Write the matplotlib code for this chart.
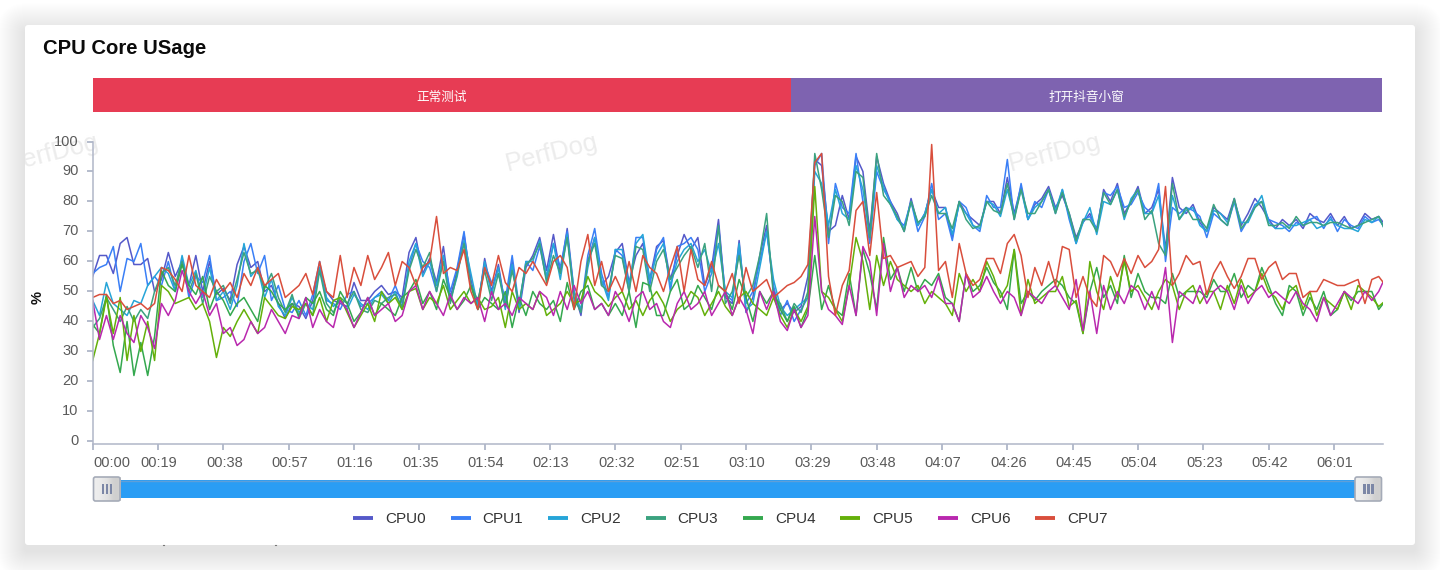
import matplotlib

matplotlib.use("Agg")
import matplotlib.pyplot as plt
import numpy as np
from matplotlib.patches import FancyBboxPatch, Rectangle
from matplotlib.transforms import Bbox, ScaledTranslation, TransformedBbox

plt.rcParams["font.family"] = ["Liberation Sans", "Noto Sans CJK SC", "DejaVu Sans"]

# one sample every 2 seconds
seconds = list(range(0, 378, 2))

cpu0 = [55, 62, 62, 56, 66, 68, 59, 59, 61, 50,
        54, 63, 55, 60, 52, 62, 50, 60, 49, 51,
        47, 59, 65, 58, 60, 50, 52, 46, 41, 46,
        45, 41, 47, 58, 50, 47, 46, 45, 53, 47,
        47, 50, 52, 49, 50, 48, 63, 68, 56, 61,
        53, 65, 48, 57, 69, 54, 44, 61, 50, 59,
        45, 60, 43, 58, 62, 68, 57, 69, 56, 71,
        50, 42, 60, 68, 52, 55, 63, 66, 53, 62,
        66, 54, 65, 67, 54, 62, 69, 64, 68, 52,
        58, 74, 48, 46, 67, 43, 48, 62, 72, 50,
        44, 46, 43, 45, 55, 94, 92, 70, 72, 82,
        74, 95, 90, 70, 95, 86, 80, 76, 70, 81,
        72, 76, 84, 78, 78, 68, 80, 76, 74, 72,
        80, 80, 76, 88, 76, 85, 74, 79, 81, 85,
        78, 82, 76, 68, 73, 76, 70, 84, 80, 86,
        76, 80, 85, 76, 78, 84, 64, 88, 78, 76,
        79, 73, 70, 78, 76, 74, 81, 72, 76, 81,
        78, 74, 71, 74, 72, 74, 71, 76, 74, 73,
        76, 72, 75, 71, 72, 76, 74, 75, 72]
cpu1 = [56, 58, 59, 65, 50, 61, 60, 66, 52, 55,
        52, 60, 50, 61, 48, 55, 53, 62, 47, 48,
        50, 45, 60, 66, 56, 62, 47, 52, 44, 43,
        47, 42, 49, 60, 47, 46, 44, 49, 50, 45,
        46, 48, 50, 47, 52, 46, 58, 66, 60, 58,
        50, 62, 50, 58, 70, 52, 46, 59, 53, 56,
        47, 62, 45, 60, 57, 65, 54, 66, 58, 70,
        47, 44, 62, 71, 56, 48, 64, 62, 50, 68,
        68, 52, 64, 68, 50, 65, 66, 68, 64, 50,
        56, 72, 49, 47, 64, 46, 50, 60, 70, 52,
        42, 47, 40, 44, 48, 92, 96, 66, 86, 78,
        76, 96, 80, 66, 90, 84, 80, 74, 72, 80,
        70, 75, 86, 74, 76, 67, 80, 78, 72, 70,
        82, 78, 78, 94, 74, 86, 74, 80, 78, 84,
        76, 84, 74, 66, 74, 75, 71, 83, 82, 85,
        78, 79, 83, 78, 76, 86, 60, 78, 76, 78,
        77, 75, 68, 76, 74, 72, 80, 70, 74, 79,
        80, 74, 73, 72, 70, 73, 72, 74, 75, 71,
        75, 70, 74, 72, 71, 75, 73, 74, 71]
cpu2 = [47, 42, 53, 46, 44, 42, 47, 46, 52, 55,
        58, 56, 50, 62, 52, 57, 48, 58, 47, 50,
        44, 52, 66, 55, 58, 48, 54, 45, 42, 48,
        43, 46, 44, 58, 48, 45, 47, 44, 49, 46,
        44, 48, 49, 46, 50, 44, 60, 66, 55, 60,
        52, 62, 47, 55, 67, 56, 45, 60, 49, 58,
        44, 59, 44, 60, 60, 67, 55, 66, 54, 69,
        50, 44, 58, 68, 54, 47, 64, 64, 52, 66,
        69, 54, 62, 66, 52, 60, 64, 66, 60, 64,
        56, 66, 50, 48, 66, 44, 46, 58, 70, 54,
        45, 42, 44, 46, 48, 90, 86, 72, 84, 76,
        74, 92, 84, 68, 92, 85, 79, 74, 71, 80,
        72, 76, 84, 76, 78, 69, 79, 76, 72, 71,
        80, 79, 75, 84, 75, 84, 74, 78, 80, 84,
        77, 84, 75, 66, 73, 78, 69, 80, 79, 84,
        74, 81, 84, 76, 76, 82, 63, 82, 74, 77,
        78, 72, 70, 77, 76, 73, 80, 73, 73, 78,
        82, 73, 71, 71, 72, 72, 73, 74, 71, 72,
        74, 72, 71, 71, 70, 74, 73, 75, 70]
cpu3 = [38, 41, 48, 44, 40, 45, 40, 44, 41, 50,
        56, 58, 52, 60, 50, 56, 46, 55, 50, 52,
        46, 54, 63, 56, 57, 51, 56, 48, 43, 49,
        41, 46, 42, 57, 46, 43, 48, 46, 50, 44,
        43, 47, 46, 48, 49, 45, 57, 64, 58, 63,
        50, 60, 46, 56, 66, 52, 47, 57, 47, 56,
        45, 57, 46, 59, 61, 66, 53, 62, 56, 68,
        48, 43, 60, 66, 52, 50, 62, 61, 50, 65,
        64, 50, 60, 64, 54, 58, 62, 65, 58, 66,
        50, 72, 46, 50, 62, 48, 52, 62, 76, 48,
        46, 40, 46, 43, 50, 96, 84, 68, 82, 80,
        72, 90, 88, 68, 96, 82, 79, 75, 70, 80,
        73, 75, 82, 76, 76, 71, 80, 74, 71, 72,
        80, 77, 76, 86, 74, 84, 76, 76, 80, 84,
        76, 83, 76, 67, 74, 74, 70, 83, 79, 84,
        75, 80, 84, 74, 77, 66, 62, 86, 74, 78,
        74, 74, 71, 79, 74, 72, 81, 71, 74, 78,
        80, 72, 72, 73, 71, 75, 72, 73, 73, 72,
        73, 73, 72, 71, 72, 73, 74, 75, 70]
cpu4 = [39, 36, 49, 32, 23, 40, 22, 33, 22, 35,
        57, 52, 50, 59, 52, 49, 55, 44, 50, 47,
        42, 46, 48, 44, 40, 52, 50, 46, 44, 46,
        42, 48, 46, 50, 44, 42, 50, 46, 40, 43,
        48, 42, 46, 44, 42, 48, 50, 54, 46, 50,
        44, 54, 48, 44, 47, 52, 44, 48, 46, 44,
        50, 38, 48, 42, 50, 46, 44, 47, 40, 53,
        44, 50, 52, 44, 46, 42, 46, 42, 50, 38,
        53, 52, 42, 42, 50, 54, 44, 46, 52, 48,
        44, 52, 50, 44, 54, 48, 40, 50, 46, 50,
        44, 40, 45, 38, 44, 62, 44, 52, 44, 42,
        56, 42, 64, 56, 44, 68, 54, 58, 50, 58,
        50, 54, 52, 56, 48, 46, 40, 56, 50, 52,
        58, 53, 50, 44, 64, 46, 50, 47, 50, 52,
        54, 52, 48, 46, 36, 50, 58, 48, 52, 46,
        62, 48, 56, 50, 48, 48, 46, 56, 48, 50,
        50, 50, 48, 54, 50, 50, 56, 48, 52, 50,
        58, 52, 46, 42, 52, 50, 42, 48, 44, 50,
        42, 44, 50, 47, 50, 50, 50, 44, 47]
cpu5 = [27, 36, 48, 36, 48, 27, 42, 30, 40, 27,
        52, 50, 46, 47, 48, 44, 46, 40, 28, 38,
        35, 40, 44, 40, 36, 48, 45, 42, 41, 45,
        44, 46, 42, 48, 40, 47, 48, 43, 38, 42,
        46, 40, 50, 46, 48, 44, 50, 51, 44, 48,
        46, 52, 44, 47, 50, 46, 48, 44, 45, 48,
        38, 50, 44, 46, 44, 50, 42, 44, 46, 50,
        46, 47, 55, 50, 48, 45, 48, 50, 44, 47,
        42, 47, 50, 46, 40, 44, 46, 50, 48, 42,
        46, 50, 45, 42, 48, 50, 46, 44, 42, 48,
        42, 38, 44, 40, 45, 85, 50, 48, 44, 40,
        52, 68, 60, 44, 62, 52, 60, 54, 52, 50,
        52, 46, 50, 48, 46, 42, 56, 50, 54, 50,
        60, 55, 48, 52, 64, 42, 54, 46, 48, 50,
        50, 55, 45, 47, 36, 60, 50, 44, 55, 48,
        60, 50, 52, 48, 44, 50, 54, 52, 44, 50,
        52, 46, 50, 50, 44, 52, 46, 54, 48, 50,
        56, 50, 48, 44, 50, 52, 44, 50, 42, 48,
        46, 44, 50, 44, 52, 50, 48, 45, 47]
cpu6 = [47, 34, 42, 34, 42, 36, 33, 42, 38, 31,
        46, 42, 47, 57, 50, 46, 50, 42, 46, 36,
        38, 32, 34, 40, 36, 38, 44, 40, 36, 42,
        41, 48, 38, 44, 40, 38, 47, 44, 38, 43,
        48, 42, 44, 46, 40, 42, 50, 52, 44, 50,
        46, 42, 49, 44, 48, 46, 48, 40, 50, 44,
        46, 42, 48, 46, 44, 50, 48, 42, 50, 44,
        52, 46, 50, 44, 46, 42, 50, 46, 40, 48,
        50, 44, 46, 40, 38, 46, 50, 44, 46, 50,
        42, 46, 50, 42, 48, 44, 36, 50, 44, 50,
        40, 37, 44, 38, 42, 75, 50, 44, 42, 39,
        52, 42, 65, 60, 42, 66, 50, 58, 48, 52,
        50, 52, 48, 55, 46, 46, 40, 56, 48, 50,
        55, 50, 46, 50, 48, 42, 50, 48, 46, 50,
        52, 48, 44, 54, 37, 50, 36, 52, 44, 50,
        46, 52, 50, 44, 50, 44, 58, 33, 50, 48,
        46, 52, 46, 50, 52, 50, 44, 52, 46, 50,
        52, 48, 50, 48, 46, 50, 46, 44, 40, 48,
        42, 46, 50, 48, 46, 50, 47, 50, 55]
cpu7 = [48, 49, 49, 46, 47, 44, 45, 46, 44, 46,
        58, 57, 54, 50, 62, 52, 50, 48, 54, 50,
        53, 48, 56, 52, 58, 52, 54, 56, 48, 50,
        52, 56, 49, 60, 50, 48, 62, 48, 58, 52,
        62, 54, 58, 63, 52, 60, 58, 52, 58, 60,
        75, 56, 58, 57, 64, 50, 44, 58, 52, 62,
        53, 50, 58, 56, 60, 56, 52, 60, 62, 58,
        44, 60, 69, 52, 60, 50, 55, 50, 60, 50,
        62, 58, 56, 50, 58, 65, 50, 64, 54, 52,
        60, 52, 50, 56, 46, 58, 50, 52, 54, 48,
        50, 52, 53, 55, 59, 93, 96, 55, 42, 52,
        57, 77, 80, 62, 83, 61, 62, 58, 59, 60,
        55, 58, 99, 57, 60, 48, 66, 56, 52, 54,
        61, 61, 56, 66, 69, 62, 48, 58, 52, 60,
        52, 65, 64, 48, 55, 48, 45, 62, 60, 55,
        61, 56, 62, 58, 60, 64, 85, 52, 56, 62,
        59, 60, 49, 56, 60, 55, 51, 55, 61, 61,
        54, 58, 60, 54, 56, 56, 48, 50, 50, 54,
        53, 52, 52, 53, 54, 46, 54, 55, 52]

series = [cpu0, cpu1, cpu2, cpu3, cpu4, cpu5, cpu6, cpu7]
series_names = ["CPU0", "CPU1", "CPU2", "CPU3", "CPU4", "CPU5", "CPU6", "CPU7"]
series_colors = ["#5559C9", "#3A7FF6", "#26A5D8", "#3BA27F",
                 "#34A84E", "#64B00A", "#B928AE", "#D94E3C"]

tick_seconds = list(range(0, 362, 19))
tick_labels = ["00:00", "00:19", "00:38", "00:57", "01:16", "01:35", "01:54",
               "02:13", "02:32", "02:51", "03:10", "03:29", "03:48", "04:07",
               "04:26", "04:45", "05:04", "05:23", "05:42", "06:01"]

band_names = ["正常测试", "打开抖音小窗"]
band_starts = [0, 203]
band_lengths = [203, 172]
band_colors = ["#E73C54", "#7E63B0"]

W, H = 1440, 570
fig = plt.figure(figsize=(W / 100, H / 100), dpi=100, facecolor="white")


def px_axes(left, top, right, bottom, **kwargs):
    return fig.add_axes([left / W, 1 - bottom / H, (right - left) / W, (bottom - top) / H], **kwargs)


# page and card, everything here is in pixels
bg = px_axes(0, 0, W, H, zorder=0)
bg.set_xlim(0, W)
bg.set_ylim(H, 0)
bg.axis("off")
for i in range(28):
    grow = 28 - i
    bg.add_patch(FancyBboxPatch((25 - grow, 31 - grow), 1390 + 2 * grow, 520 + 2 * grow,
                                boxstyle="round,pad=0,rounding_size=%d" % (grow + 3),
                                fc="black", ec="none", alpha=0.003))
card = FancyBboxPatch((25, 25), 1390, 520, boxstyle="round,pad=0,rounding_size=3", fc="white", ec="none")
bg.add_patch(card)
bg.plot([163, 164], [545, 545], color="#777777", lw=0.8)
bg.plot([275, 276], [545, 545], color="#777777", lw=0.8)

# agg ignores clip paths on text, so the left watermark is cut with a box
card_box = TransformedBbox(Bbox([[25, 25], [1415, 545]]), bg.transData)
for wx in [53, 552, 1055]:
    wm = bg.text(wx, 153, "PerfDog", fontsize=18.5, color="#ececec", rotation=14,
                 ha="center", va="center", family="Liberation Sans")
    wm.set_clip_box(card_box)
    wm.set_clip_on(True)

bg.text(43, 49, "CPU Core USage", fontsize=14.6, fontweight="bold", color="#0b0b0b", va="center")
bg.text(38, 298, "%", fontsize=10.5, fontweight="bold", color="#111111", rotation=90, ha="center", va="center")

# phase band
band = px_axes(92.67, 78, 1383, 112, zorder=1)
band.set_xlim(0, 375.25)
band.set_ylim(0, 1)
band.axis("off")
for name, start, length, color in zip(band_names, band_starts, band_lengths, band_colors):
    band.barh(0.5, length, left=start, height=1, color=color)
    band.text(start + length / 2, 0.41, name, color="white", fontsize=9.1, ha="center", va="center")

# main chart
ax = px_axes(92.67, 141.5, 1383, 443.5, zorder=2)
ax.patch.set_alpha(0)
for values, name, color in zip(series, series_names, series_colors):
    ax.plot(seconds, values, color=color, lw=1.1, label=name)

ax.set_xlim(0, 375.25)
ax.set_ylim(-0.67, 100)
ax.set_yticks(range(0, 101, 10))
ax.set_xticks(tick_seconds)
ax.set_xticklabels(tick_labels)
ax.get_xticklabels()[0].set_ha("left")
ax.tick_params(axis="both", length=4.6, width=1.2, color="#A8B0C4", labelcolor="#5a5a5a", labelsize=10.5)
ax.tick_params(axis="y", pad=5.5)
ax.tick_params(axis="x", pad=4.2)
ax.spines["top"].set_visible(False)
ax.spines["right"].set_visible(False)
ax.spines["left"].set_color("#B0B6C8")
ax.spines["bottom"].set_color("#B0B6C8")
ax.spines["left"].set_linewidth(1.1)
ax.spines["bottom"].set_linewidth(1.1)

# labels sit a little off the ticks in the original
for lab in ax.get_yticklabels():
    lab.set_transform(lab.get_transform() + ScaledTranslation(0, 1.5 / 100, fig.dpi_scale_trans))
for lab in ax.get_xticklabels():
    lab.set_transform(lab.get_transform() + ScaledTranslation(1 / 100, 0, fig.dpi_scale_trans))

leg = ax.legend(loc="center", bbox_to_anchor=(730.5 / W, 1 - 519 / H), bbox_transform=fig.transFigure,
                ncol=8, frameon=False, fontsize=11, handlelength=1.31, handletextpad=0.78,
                columnspacing=1.63, labelcolor="#333333")
for line in leg.get_lines():
    line.set_linewidth(2.8)
    line.set_solid_capstyle("butt")

# zoom slider
top = px_axes(0, 0, W, H, zorder=3)
top.patch.set_alpha(0)
top.set_xlim(0, W)
top.set_ylim(H, 0)
top.axis("off")
top.add_patch(Rectangle((106, 480), 1262, 18, fc="#2A9DF4", ec="none"))
top.plot([106, 1368], [480.6, 480.6], color="#5F9FD8", lw=1)
shade = np.array([[0.93, 0.92, 0.90, 0.88, 0.84, 0.80, 0.82]])
for hx in [93.5, 1355]:
    top.imshow(shade, extent=(hx, hx + 26.5, 501, 477), cmap="gray", vmin=0, vmax=1,
               aspect="auto", interpolation="bicubic", zorder=3)
    top.add_patch(FancyBboxPatch((hx, 477), 26.5, 24, boxstyle="round,pad=0,rounding_size=2",
                                 fc="none", ec="#A5ABB8", lw=1.2, zorder=4))
    for off in [8, 12, 16]:
        top.add_patch(Rectangle((hx + off, 484), 2.6, 10, fc="#7C87A6", ec="none", zorder=5))
top.set_xlim(0, W)
top.set_ylim(H, 0)

fig.savefig("out.png", dpi=100, facecolor=fig.get_facecolor())
